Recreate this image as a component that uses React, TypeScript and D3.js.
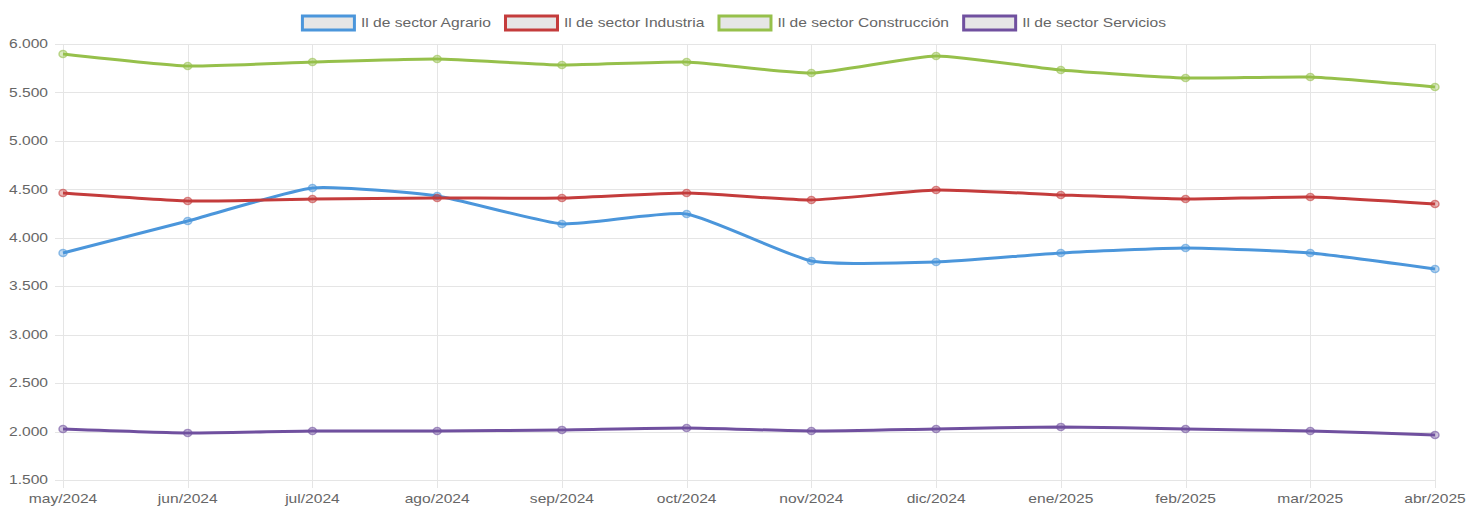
import React, { useEffect, useRef } from 'react';
import * as d3 from 'd3';

const months = ['may/2024', 'jun/2024', 'jul/2024', 'ago/2024', 'sep/2024', 'oct/2024', 'nov/2024', 'dic/2024', 'ene/2025', 'feb/2025', 'mar/2025', 'abr/2025'];

const agrario = [3843, 4173, 4514, 4431, 4143, 4246, 3761, 3750, 3843, 3895, 3843, 3678];
const industria = [4462, 4380, 4400, 4410, 4410, 4462, 4390, 4493, 4442, 4400, 4421, 4349];
const construccion = [5897, 5773, 5814, 5845, 5783, 5814, 5700, 5876, 5732, 5649, 5659, 5556];
const servicios = [2027, 1986, 2006, 2006, 2017, 2037, 2006, 2027, 2048, 2027, 2006, 1965];

const yTicks = [1500, 2000, 2500, 3000, 3500, 4000, 4500, 5000, 5500, 6000];

const series = [
  { name: 'Il de sector Agrario', values: agrario, color: '#4b96db' },
  { name: 'Il de sector Industria', values: industria, color: '#c43c3c' },
  { name: 'Il de sector Construcción', values: construccion, color: '#96c04b' },
  { name: 'Il de sector Servicios', values: servicios, color: '#70509f' },
];

const W = 1467;
const H = 509;
const SX = 1.3; // the reference text is stretched horizontally
const FONT = '"Liberation Sans", Arial, Helvetica, sans-serif';

export default function App() {
  const svgRef = useRef<SVGSVGElement>(null);

  useEffect(() => {
    if (!svgRef.current) return;
    const svg = d3.select(svgRef.current);
    svg.selectAll('*').remove();

    const margin = { top: 44, right: 32, bottom: 29, left: 63 };

    const x = d3.scalePoint<string>()
      .domain(months)
      .range([margin.left, W - margin.right]);

    const y = d3.scaleLinear()
      .domain([1500, 6000])
      .range([H - margin.bottom, margin.top]);

    const fmt = d3.formatLocale({ decimal: ',', thousands: '.', grouping: [3], currency: ['', ''] }).format(',');

    // grid
    const grid = svg.append('g');
    grid.selectAll('line.h')
      .data(yTicks)
      .join('line')
      .attr('x1', margin.left - 8)
      .attr('x2', W - margin.right)
      .attr('y1', d => Math.round(y(d)) + 0.5)
      .attr('y2', d => Math.round(y(d)) + 0.5)
      .attr('stroke', '#e5e5e5');
    grid.selectAll('line.v')
      .data(months)
      .join('line')
      .attr('x1', d => Math.round(x(d)!) + 0.5)
      .attr('x2', d => Math.round(x(d)!) + 0.5)
      .attr('y1', margin.top)
      .attr('y2', H - margin.bottom + 8)
      .attr('stroke', '#e5e5e5');

    // y labels
    svg.append('g').selectAll('text')
      .data(yTicks)
      .join('text')
      .attr('transform', d => `translate(${margin.left - 15},${y(d)}) scale(${SX},1)`)
      .attr('text-anchor', 'end')
      .attr('dy', '0.35em')
      .style('font-family', FONT)
      .style('font-size', '12px')
      .style('fill', '#666')
      .text(d => fmt(d));

    // x labels
    svg.append('g').selectAll('text')
      .data(months)
      .join('text')
      .attr('transform', d => `translate(${x(d)},${H - 6}) scale(${SX},1)`)
      .attr('text-anchor', 'middle')
      .style('font-family', FONT)
      .style('font-size', '12px')
      .style('fill', '#666')
      .text(d => d);

    const line = d3.line<number>()
      .x((_, i) => x(months[i])!)
      .y(d => y(d))
      .curve(d3.curveCardinal.tension(0.5));

    for (const s of series) {
      const g = svg.append('g');
      g.append('path')
        .attr('d', line(s.values))
        .attr('fill', 'none')
        .attr('stroke', s.color)
        .attr('stroke-width', 3);
      g.selectAll('ellipse')
        .data(s.values)
        .join('ellipse')
        .attr('cx', (_, i) => x(months[i])!)
        .attr('cy', d => y(d))
        .attr('rx', 4)
        .attr('ry', 3.5)
        .attr('fill', s.color)
        .attr('fill-opacity', 0.35)
        .attr('stroke', s.color)
        .attr('stroke-opacity', 0.6)
        .attr('stroke-width', 1.5);
    }

    // legend
    const legend = svg.append('g');
    const boxW = 55;
    const boxH = 14;
    const gap = 5;
    const pad = 13;
    const items = series.map(s => {
      const t = legend.append('text')
        .style('font-family', FONT)
        .style('font-size', '12px')
        .text(s.name);
      const w = (t.node() as SVGTextElement).getComputedTextLength() * SX;
      t.remove();
      return { ...s, w: boxW + gap + w };
    });
    const total = d3.sum(items, d => d.w) + pad * (items.length - 1);
    let cx = (W - total) / 2;
    const ly = 23;
    for (const it of items) {
      legend.append('rect')
        .attr('x', cx + 1.5)
        .attr('y', ly - boxH / 2)
        .attr('width', boxW - 3)
        .attr('height', boxH)
        .attr('fill', '#e6e6e6')
        .attr('stroke', it.color)
        .attr('stroke-width', 3);
      legend.append('text')
        .attr('transform', `translate(${cx + boxW + gap},${ly}) scale(${SX},1)`)
        .attr('dy', '0.35em')
        .style('font-family', FONT)
        .style('font-size', '12px')
        .style('fill', '#666')
        .text(it.name);
      cx += it.w + pad;
    }
  }, []);

  return (
    <svg
      ref={svgRef}
      width={W}
      height={H}
      style={{ position: 'absolute', left: 0, top: 0, background: '#fff' }}
    />
  );
}
